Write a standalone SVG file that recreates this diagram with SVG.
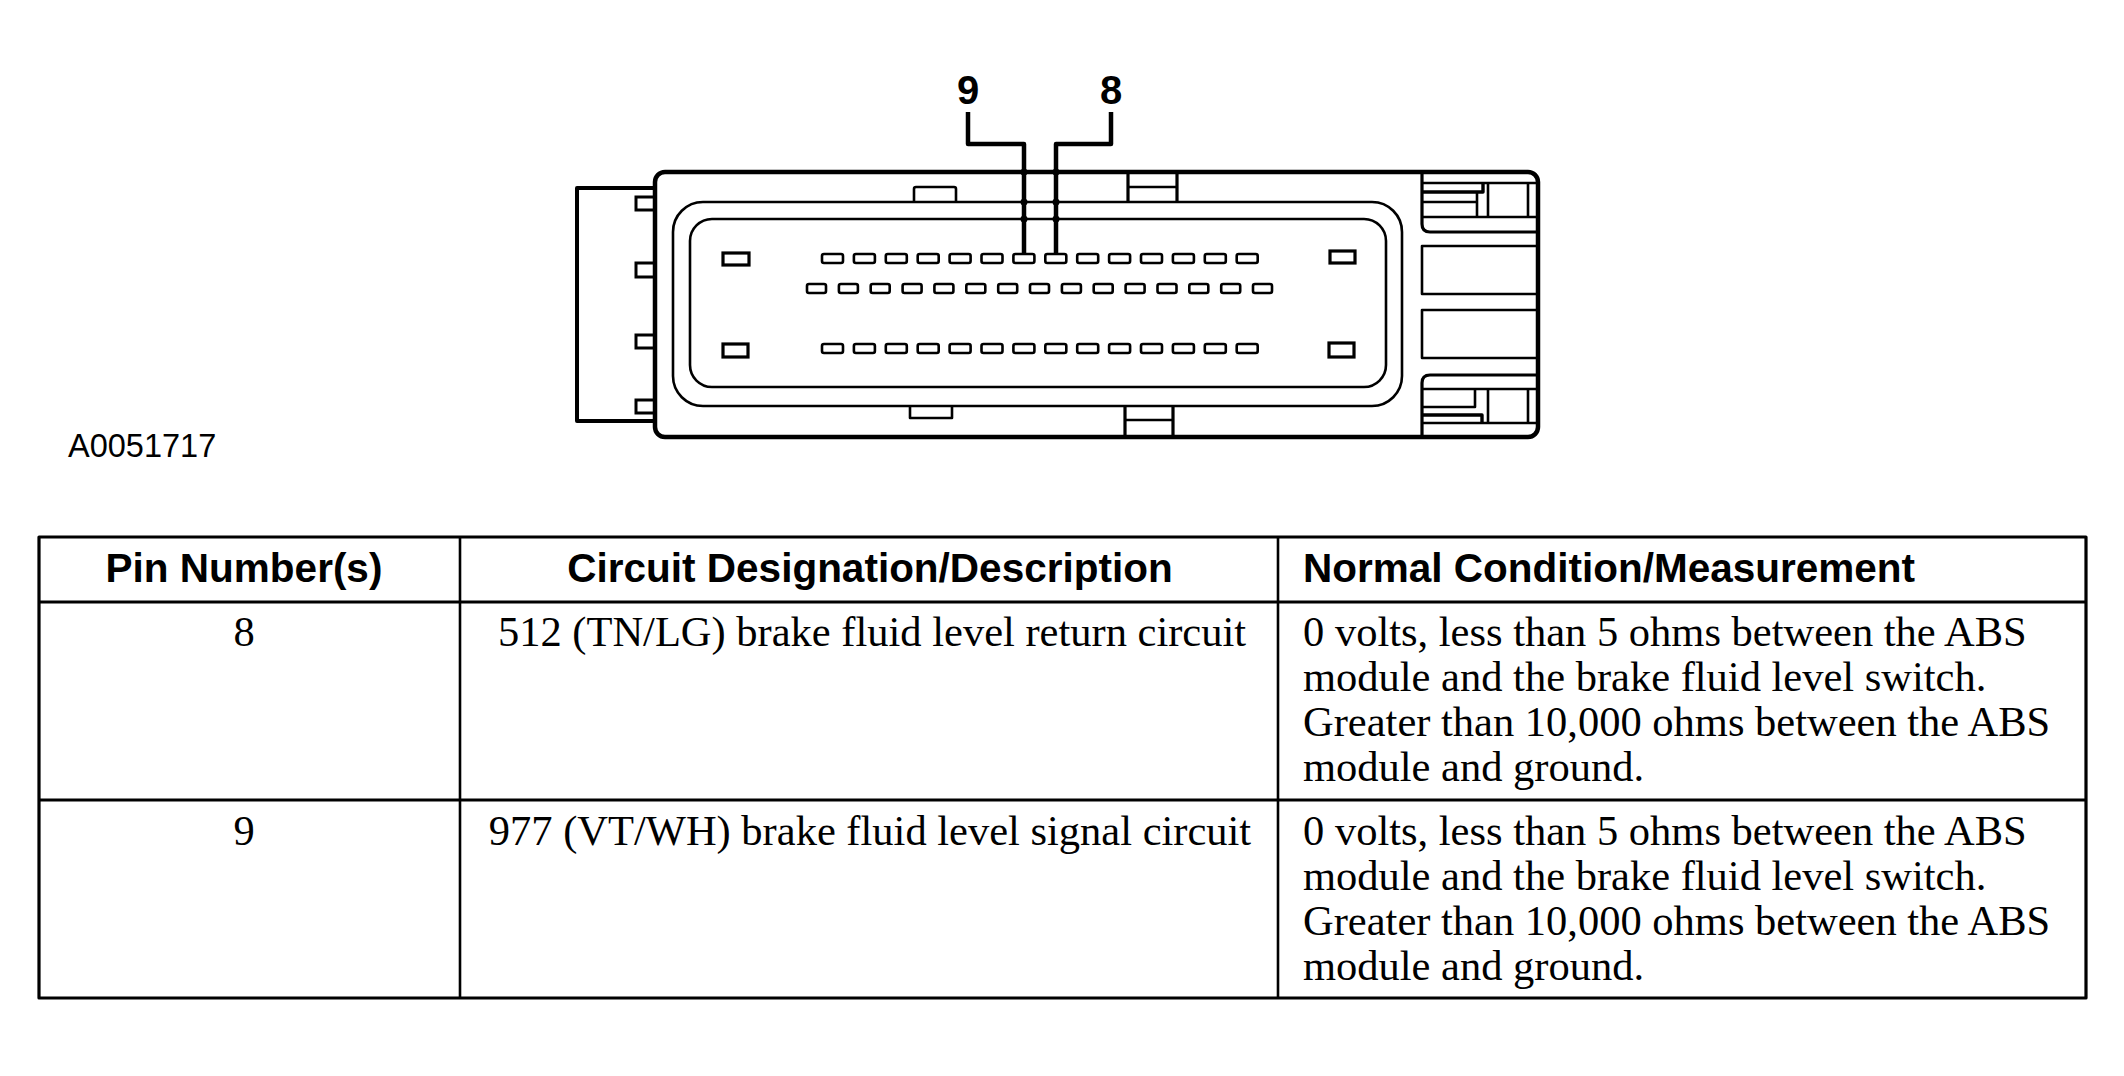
<svg xmlns="http://www.w3.org/2000/svg" width="2124" height="1076" viewBox="0 0 2124 1076">
<style>
.k{fill:none;stroke:#000;stroke-linejoin:round}
.w{fill:#fff;stroke:#000}
.pin{fill:#fff;stroke:#000;stroke-width:2.6}
.big{fill:#fff;stroke:#000;stroke-width:3.2}
.lbl{font-family:"Liberation Sans",Arial,sans-serif;font-weight:bold;font-size:40px;fill:#000}
.hd{font-family:"Liberation Sans",Arial,sans-serif;font-weight:bold;font-size:40.5px;fill:#000}
.tx{font-family:"Liberation Serif","Times New Roman",serif;font-size:42.5px;fill:#000}
.id{font-family:"Liberation Sans",Arial,sans-serif;font-size:32.5px;fill:#000}
</style>
<rect width="2124" height="1076" fill="#fff"/>
<g id="connector">
  <path class="k" stroke-width="4" d="M655,188 H577 V421 H655"/>
  <g id="flange-tabs" class="w" stroke-width="3">
    <path d="M655,197 H636 V210 H655"/>
    <path d="M655,263 H636 V277 H655"/>
    <path d="M655,335 H636 V348 H655"/>
    <path d="M655,400 H636 V413 H655"/>
  </g>
  <rect class="k" stroke-width="4.5" x="655" y="172" width="883" height="265" rx="10"/>
  <rect class="k" stroke-width="2.6" x="673" y="202" width="729" height="204" rx="30"/>
  <rect class="k" stroke-width="2.6" x="690" y="219" width="696" height="168" rx="22"/>
  <g id="body-tabs" class="k" stroke-width="2.6">
    <path d="M914,202 V189 Q914,187 916,187 H954 Q956,187 956,189 V202"/>
    <path d="M910,406 V418 H952 V406"/>
    <path stroke-width="3.2" d="M1128,172 V202 M1177,172 V202"/>
    <path d="M1128,187 H1177"/>
    <path stroke-width="3.2" d="M1125,406 V437 M1173,406 V437"/>
    <path d="M1125,420 H1173"/>
  </g>
  <g id="right-end" class="k" stroke-width="2.6">
    <path stroke-width="3.2" d="M1422,172 V224 Q1422,232 1430,232 H1538"/>
    <path d="M1422,183 H1538 M1422,217 H1538"/>
    <path stroke-width="3.4" d="M1422,192 H1483 V183"/>
    <path d="M1422,202 H1477 M1477,193 V217"/>
    <path d="M1488,183 V217 M1528,183 V217"/>
    <path d="M1538,246 H1422 V294 H1538"/>
    <path d="M1538,310 H1422 V358 H1538"/>
    <path stroke-width="3.2" d="M1422,437 V383 Q1422,375 1430,375 H1538"/>
    <path d="M1422,389 H1538 M1422,423 H1538"/>
    <path d="M1422,407 H1475 V389"/>
    <path stroke-width="3.4" d="M1422,415 H1482 V423"/>
    <path d="M1488,389 V423 M1528,389 V423"/>
  </g>
  <g id="pins">
    <rect class="big" x="723" y="253" width="26" height="12"/>
    <rect class="big" x="723" y="344" width="25" height="13"/>
    <rect class="big" x="1330" y="251" width="25" height="12"/>
    <rect class="big" x="1329" y="343" width="25" height="14"/>
    <g id="row1">
      <rect class="pin" x="822" y="254" width="21" height="9" rx="2"/>
      <rect class="pin" x="853.9" y="254" width="21" height="9" rx="2"/>
      <rect class="pin" x="885.8" y="254" width="21" height="9" rx="2"/>
      <rect class="pin" x="917.7" y="254" width="21" height="9" rx="2"/>
      <rect class="pin" x="949.6" y="254" width="21" height="9" rx="2"/>
      <rect class="pin" x="981.5" y="254" width="21" height="9" rx="2"/>
      <rect class="pin" x="1013.4" y="254" width="21" height="9" rx="2"/>
      <rect class="pin" x="1045.3" y="254" width="21" height="9" rx="2"/>
      <rect class="pin" x="1077.2" y="254" width="21" height="9" rx="2"/>
      <rect class="pin" x="1109.1" y="254" width="21" height="9" rx="2"/>
      <rect class="pin" x="1141" y="254" width="21" height="9" rx="2"/>
      <rect class="pin" x="1172.9" y="254" width="21" height="9" rx="2"/>
      <rect class="pin" x="1204.8" y="254" width="21" height="9" rx="2"/>
      <rect class="pin" x="1236.7" y="254" width="21" height="9" rx="2"/>
    </g>
    <g id="row2">
      <rect class="pin" x="807" y="284" width="19" height="9" rx="2"/>
      <rect class="pin" x="838.9" y="284" width="19" height="9" rx="2"/>
      <rect class="pin" x="870.7" y="284" width="19" height="9" rx="2"/>
      <rect class="pin" x="902.6" y="284" width="19" height="9" rx="2"/>
      <rect class="pin" x="934.4" y="284" width="19" height="9" rx="2"/>
      <rect class="pin" x="966.3" y="284" width="19" height="9" rx="2"/>
      <rect class="pin" x="998.2" y="284" width="19" height="9" rx="2"/>
      <rect class="pin" x="1030" y="284" width="19" height="9" rx="2"/>
      <rect class="pin" x="1061.9" y="284" width="19" height="9" rx="2"/>
      <rect class="pin" x="1093.7" y="284" width="19" height="9" rx="2"/>
      <rect class="pin" x="1125.6" y="284" width="19" height="9" rx="2"/>
      <rect class="pin" x="1157.5" y="284" width="19" height="9" rx="2"/>
      <rect class="pin" x="1189.3" y="284" width="19" height="9" rx="2"/>
      <rect class="pin" x="1221.2" y="284" width="19" height="9" rx="2"/>
      <rect class="pin" x="1253" y="284" width="19" height="9" rx="2"/>
    </g>
    <g id="row3">
      <rect class="pin" x="822" y="344" width="21" height="9" rx="2"/>
      <rect class="pin" x="853.9" y="344" width="21" height="9" rx="2"/>
      <rect class="pin" x="885.8" y="344" width="21" height="9" rx="2"/>
      <rect class="pin" x="917.7" y="344" width="21" height="9" rx="2"/>
      <rect class="pin" x="949.6" y="344" width="21" height="9" rx="2"/>
      <rect class="pin" x="981.5" y="344" width="21" height="9" rx="2"/>
      <rect class="pin" x="1013.4" y="344" width="21" height="9" rx="2"/>
      <rect class="pin" x="1045.3" y="344" width="21" height="9" rx="2"/>
      <rect class="pin" x="1077.2" y="344" width="21" height="9" rx="2"/>
      <rect class="pin" x="1109.1" y="344" width="21" height="9" rx="2"/>
      <rect class="pin" x="1141" y="344" width="21" height="9" rx="2"/>
      <rect class="pin" x="1172.9" y="344" width="21" height="9" rx="2"/>
      <rect class="pin" x="1204.8" y="344" width="21" height="9" rx="2"/>
      <rect class="pin" x="1236.7" y="344" width="21" height="9" rx="2"/>
    </g>
  </g>
</g>
<g id="connectors">
  <path class="k" stroke-width="4.5" stroke-linejoin="miter" d="M968,112 V144 H1024 V255"/>
  <path class="k" stroke-width="4.5" stroke-linejoin="miter" d="M1111,112 V144 H1056 V255"/>
  <g fill="#000">
    <circle cx="1024" cy="172" r="3.5"/><circle cx="1024" cy="202" r="3.5"/><circle cx="1024" cy="219" r="3.5"/>
    <circle cx="1056" cy="172" r="3.5"/><circle cx="1056" cy="202" r="3.5"/><circle cx="1056" cy="219" r="3.5"/>
  </g>
</g>
<g id="labels">
  <text class="lbl" x="968" y="104" text-anchor="middle">9</text>
  <text class="lbl" x="1111" y="104" text-anchor="middle">8</text>
  <text class="id" x="68" y="457">A0051717</text>
</g>
<g id="table">
  <rect class="k" stroke-width="3.2" x="39" y="537" width="2047" height="461"/>
  <path class="k" stroke-width="3.2" d="M39,602 H2086 M39,800 H2086"/>
  <path class="k" stroke-width="2.6" d="M460,537 V998 M1278,537 V998"/>
  <text class="hd" x="244" y="582" text-anchor="middle">Pin Number(s)</text>
  <text class="hd" x="870" y="582" text-anchor="middle">Circuit Designation/Description</text>
  <text class="hd" x="1303" y="582">Normal Condition/Measurement</text>
  <text class="tx" x="244" y="646" text-anchor="middle">8</text>
  <text class="tx" x="872" y="646" text-anchor="middle">512 (TN/LG) brake fluid level return circuit</text>
  <text class="tx" x="1303" y="646">0 volts, less than 5 ohms between the ABS</text>
  <text class="tx" x="1303" y="691">module and the brake fluid level switch.</text>
  <text class="tx" x="1303" y="736">Greater than 10,000 ohms between the ABS</text>
  <text class="tx" x="1303" y="781">module and ground.</text>
  <text class="tx" x="244" y="845" text-anchor="middle">9</text>
  <text class="tx" x="870" y="845" text-anchor="middle">977 (VT/WH) brake fluid level signal circuit</text>
  <text class="tx" x="1303" y="845">0 volts, less than 5 ohms between the ABS</text>
  <text class="tx" x="1303" y="890">module and the brake fluid level switch.</text>
  <text class="tx" x="1303" y="935">Greater than 10,000 ohms between the ABS</text>
  <text class="tx" x="1303" y="980">module and ground.</text>
</g>
</svg>
